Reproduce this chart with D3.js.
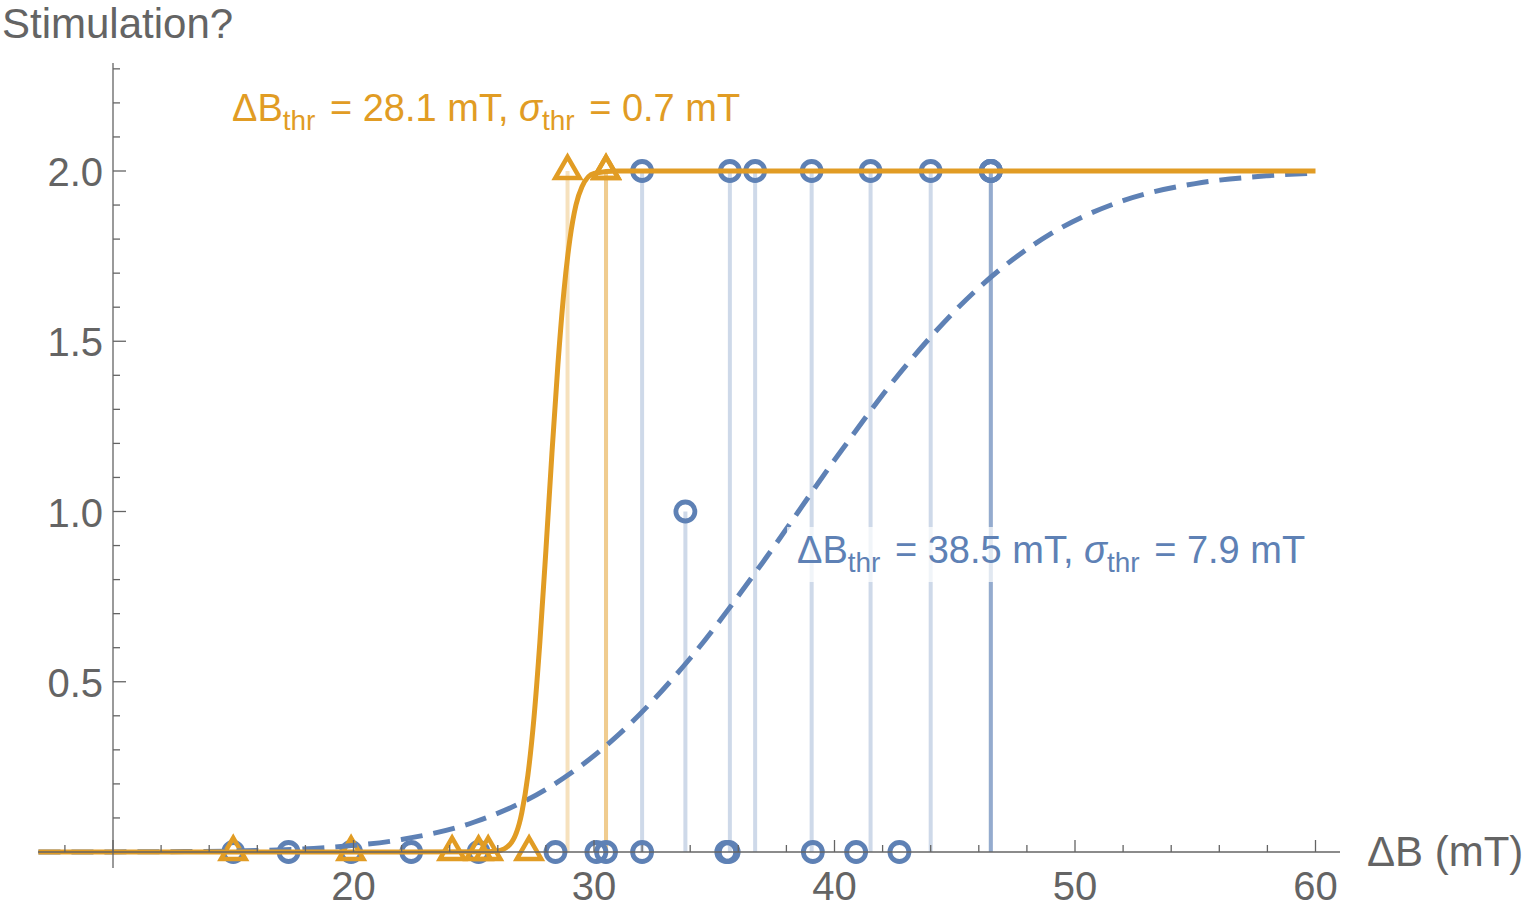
<!DOCTYPE html>
<html lang="en">
<head>
<meta charset="utf-8">
<title>Stimulation?</title>
<script src="https://cdnjs.cloudflare.com/ajax/libs/d3/7.8.5/d3.min.js"></script>
<style>
  body { margin: 0; background: #fff; }
  svg text { font-family: "Liberation Sans", Arial, sans-serif; }
</style>
</head>
<body>
<div id="chart"></div>
<script>

// trial outcomes
const orangeX = [15.0, 19.9, 24.1, 25.2, 25.6, 27.3, 28.9, 30.5, 30.5];
const orangeY = [0, 0, 0, 0, 0, 0, 2, 2, 2];

const blueX = [15.0, 17.3, 19.9, 22.4, 25.2, 28.4, 30.1, 30.5, 32.0, 35.5, 35.6, 39.1, 40.9, 42.7,
               33.8, 32.0, 35.65, 36.7, 39.05, 41.5, 44.0, 46.5, 46.5, 46.5];
const blueY = [0, 0, 0, 0, 0, 0, 0, 0, 0, 0, 0, 0, 0, 0,
               1, 2, 2, 2, 2, 2, 2, 2, 2, 2];

// fitted curves
const orangeCurveX = [6.9, 20, 25.5, 26, 26.5, 27, 27.25, 27.5, 27.75, 28, 28.25, 28.5, 28.75, 29, 29.25, 29.5, 30, 31, 60];
const orangeCurveY = [0, 0, 0.001, 0.003, 0.022, 0.116, 0.225, 0.391, 0.617, 0.886, 1.17, 1.432, 1.647, 1.801, 1.9, 1.954, 1.993, 2.0, 2.0];

const blueCurveX = [6.9, 10, 13, 16, 19, 22, 25, 28, 31, 34, 37, 40, 43, 46, 49, 52, 55, 58, 60];
const blueCurveY = [0.0001, 0.0003, 0.0012, 0.0044, 0.0136, 0.0367, 0.0874, 0.184, 0.343, 0.569, 0.849, 1.151, 1.431, 1.657, 1.816, 1.913, 1.963, 1.986, 1.994];

const xMajorTicks = [10, 20, 30, 40, 50, 60];
const xTickLabels = ["", "20", "30", "40", "50", "60"];
const yMajorTicks = [0.5, 1.0, 1.5, 2.0];
const yTickLabels = ["0.5", "1.0", "1.5", "2.0"];

const orange = "#e19c24";
const blue = "#5e81b5";
const gray = "#646464";

const width = 1525, height = 907;

const x = d3.scaleLinear().domain([10, 60]).range([113, 1315.5]);
const y = d3.scaleLinear().domain([0, 2]).range([852, 171]);

const svg = d3.select("#chart").append("svg")
  .attr("width", width)
  .attr("height", height);

const blueData = blueX.map((d, i) => ({x: d, y: blueY[i]}));
const orangeData = orangeX.map((d, i) => ({x: d, y: orangeY[i]}));

// stems
svg.append("g").selectAll("line")
  .data(blueData.filter(d => d.y > 0))
  .join("line")
  .attr("x1", d => x(d.x)).attr("x2", d => x(d.x))
  .attr("y1", y(0)).attr("y2", d => y(d.y))
  .attr("stroke", blue).attr("stroke-width", 4).attr("stroke-opacity", 0.3);

svg.append("g").selectAll("line")
  .data(orangeData.filter(d => d.y > 0))
  .join("line")
  .attr("x1", d => x(d.x)).attr("x2", d => x(d.x))
  .attr("y1", y(0)).attr("y2", d => y(d.y))
  .attr("stroke", orange).attr("stroke-width", 4).attr("stroke-opacity", 0.3);

// markers
svg.append("g").selectAll("circle")
  .data(blueData)
  .join("circle")
  .attr("cx", d => x(d.x)).attr("cy", d => y(d.y))
  .attr("r", 9.5)
  .attr("fill", "none")
  .attr("stroke", blue).attr("stroke-width", 4.8);

const tri = d3.symbol(d3.symbolTriangle, 260);
svg.append("g").selectAll("path")
  .data(orangeData)
  .join("path")
  .attr("d", tri)
  .attr("transform", d => `translate(${x(d.x)},${y(d.y)})`)
  .attr("fill", "none")
  .attr("stroke", orange).attr("stroke-width", 4.5);

// curves
const line = d3.line().x(d => x(d[0])).y(d => y(d[1])).curve(d3.curveMonotoneX);

svg.append("path")
  .datum(blueCurveX.map((d, i) => [d, blueCurveY[i]]))
  .attr("d", line)
  .attr("fill", "none")
  .attr("stroke", blue).attr("stroke-width", 5)
  .attr("stroke-dasharray", "22,11");

svg.append("path")
  .datum(orangeCurveX.map((d, i) => [d, orangeCurveY[i]]))
  .attr("d", line)
  .attr("fill", "none")
  .attr("stroke", orange).attr("stroke-width", 5);

// axes
const axes = svg.append("g").attr("stroke", gray).attr("stroke-width", 1.3);
axes.append("line")
  .attr("x1", x(6.88)).attr("x2", x(61.02))
  .attr("y1", y(0)).attr("y2", y(0));
axes.append("line")
  .attr("x1", x(10)).attr("x2", x(10))
  .attr("y1", y(-0.047)).attr("y2", y(2.317));

const xMinor = d3.range(8, 61, 2).filter(v => v % 10 !== 0);
axes.selectAll(".xminor").data(xMinor).join("line")
  .attr("x1", d => x(d)).attr("x2", d => x(d))
  .attr("y1", y(0)).attr("y2", y(0) - 7);
axes.selectAll(".xmajor").data(xMajorTicks).join("line")
  .attr("x1", d => x(d)).attr("x2", d => x(d))
  .attr("y1", y(0)).attr("y2", y(0) - 12);

const yMinor = d3.range(1, 24).map(v => v / 10).filter(v => v * 2 % 1 !== 0);
axes.selectAll(".yminor").data(yMinor).join("line")
  .attr("x1", x(10)).attr("x2", x(10) + 7)
  .attr("y1", d => y(d)).attr("y2", d => y(d));
axes.selectAll(".ymajor").data(yMajorTicks).join("line")
  .attr("x1", x(10)).attr("x2", x(10) + 13)
  .attr("y1", d => y(d)).attr("y2", d => y(d));

// tick labels
svg.append("g").selectAll("text")
  .data(xMajorTicks)
  .join("text")
  .attr("x", d => x(d)).attr("y", 900)
  .attr("text-anchor", "middle")
  .attr("font-size", 40).attr("fill", gray)
  .text((d, i) => xTickLabels[i]);

svg.append("g").selectAll("text")
  .data(yMajorTicks)
  .join("text")
  .attr("x", 103).attr("y", d => y(d) + 15)
  .attr("text-anchor", "end")
  .attr("font-size", 40).attr("fill", gray)
  .text((d, i) => yTickLabels[i]);

// axis labels
svg.append("text")
  .attr("x", 2).attr("y", 38)
  .attr("font-size", 42).attr("fill", gray)
  .text("Stimulation?");

svg.append("text")
  .attr("x", 1367).attr("y", 866)
  .attr("font-size", 42).attr("fill", gray)
  .text("ΔB (mT)");

// fit annotations
function annotate(px, py, color, b, s) {
  const t = svg.append("text")
    .attr("x", px).attr("y", py)
    .attr("font-size", 38).attr("fill", color);
  t.append("tspan").text("ΔB");
  t.append("tspan").attr("font-size", 28).attr("dy", 9).text("thr");
  t.append("tspan").attr("dy", -9).attr("dx", 4).text(` = ${b} mT, `);
  t.append("tspan").attr("font-style", "italic").text("σ");
  t.append("tspan").attr("font-size", 28).attr("dy", 9).text("thr");
  t.append("tspan").attr("dy", -9).attr("dx", 4).text(` = ${s} mT`);
  return t;
}

annotate(232, 121, orange, "28.1", "0.7");

const blueLabel = annotate(797, 563, blue, "38.5", "7.9");
const bb = blueLabel.node().getBBox();
svg.insert("rect", () => blueLabel.node())
  .attr("x", bb.x - 10).attr("y", bb.y - 2)
  .attr("width", bb.width + 14).attr("height", bb.height + 6)
  .attr("fill", "#fff").attr("fill-opacity", 0.72);

</script>
</body>
</html>
